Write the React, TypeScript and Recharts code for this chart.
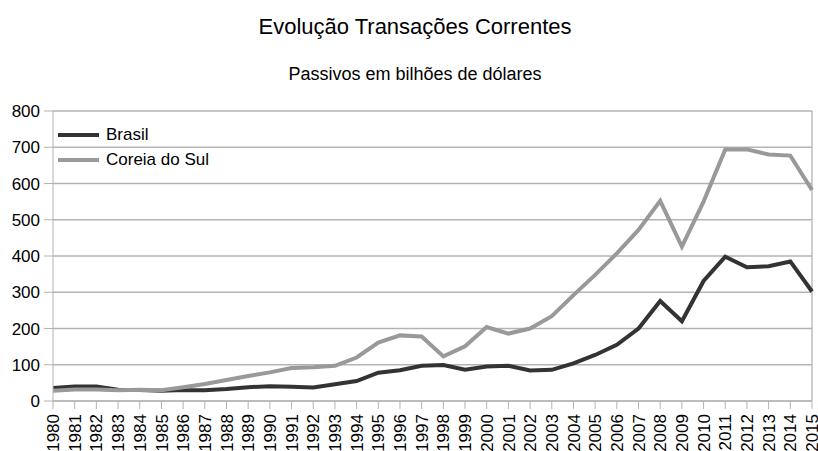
import React from "react";
import {
  LineChart,
  Line,
  XAxis,
  YAxis,
  CartesianGrid,
  Legend,
  ReferenceLine,
} from "recharts";

const years = [
  "1980", "1981", "1982", "1983", "1984", "1985", "1986", "1987", "1988",
  "1989", "1990", "1991", "1992", "1993", "1994", "1995", "1996", "1997",
  "1998", "1999", "2000", "2001", "2002", "2003", "2004", "2005", "2006",
  "2007", "2008", "2009", "2010", "2011", "2012", "2013", "2014", "2015",
];

const brasil = [
  36, 40, 40, 31, 30, 28, 30, 30, 33, 38, 41, 39, 37, 46, 55, 78, 85, 97,
  99, 86, 95, 97, 84, 86, 104, 127, 155, 200, 276, 220, 331, 398, 369, 372,
  385, 302,
];

const coreia = [
  28, 32, 32, 30, 31, 30, 38, 47, 58, 69, 79, 91, 93, 97, 120, 161, 181,
  178, 123, 151, 204, 186, 200, 234, 292, 348, 407, 472, 552, 426, 550, 694,
  694, 680, 677, 582,
];

const yTicks = [0, 100, 200, 300, 400, 500, 600, 700, 800];

const data = years.map((year, i) => ({
  year,
  brasil: brasil[i],
  coreia: coreia[i],
}));

const FONT = '"Liberation Sans", Arial, sans-serif';
const GRID = "#b3b3b3";

function YearTick(props: any) {
  const { x, y, payload } = props;
  return (
    <text
      x={x}
      y={y + 3}
      transform={`rotate(-90, ${x}, ${y + 3})`}
      textAnchor="end"
      dy="0.36em"
      fontSize={17}
      fontFamily={FONT}
      fill="#000"
    >
      {payload.value}
    </text>
  );
}

function LegendBox(props: any) {
  const items = props.payload || [];
  return (
    <div style={{ fontFamily: FONT, fontSize: 17 }}>
      {items.map((it: any) => (
        <div
          key={it.value}
          style={{ display: "flex", alignItems: "center", height: 25 }}
        >
          <span
            style={{
              display: "inline-block",
              width: 41,
              height: 4,
              background: it.color,
              marginRight: 7,
            }}
          />
          <span>{it.value}</span>
        </div>
      ))}
    </div>
  );
}

export default function App() {
  return (
    <div
      style={{
        position: "absolute",
        left: 0,
        top: 0,
        width: 818,
        height: 451,
        background: "#fff",
        fontFamily: FONT,
      }}
    >
      <div
        style={{
          position: "absolute",
          left: 0,
          width: 830,
          top: 16,
          textAlign: "center",
          fontSize: 22,
          lineHeight: "22px",
        }}
      >
        Evolução Transações Correntes
      </div>
      <div
        style={{
          position: "absolute",
          left: 0,
          width: 830,
          top: 65,
          textAlign: "center",
          fontSize: 18,
          lineHeight: "18px",
        }}
      >
        Passivos em bilhões de dólares
      </div>
      <LineChart
        width={818}
        height={451}
        data={data}
        margin={{ top: 111, right: 6, left: 0, bottom: 0 }}
      >
        <CartesianGrid vertical={false} stroke={GRID} strokeWidth={1.3} />
        <XAxis
          dataKey="year"
          interval={0}
          height={50}
          tickSize={8}
          stroke={GRID}
          tick={<YearTick />}
        />
        <YAxis
          domain={[0, 800]}
          ticks={yTicks}
          width={53}
          tickSize={9}
          tickMargin={4}
          stroke={GRID}
          tick={{ fill: "#000", fontSize: 17, fontFamily: FONT }}
        />
        <ReferenceLine x="2015" stroke={GRID} strokeWidth={1.3} />
        <Legend
          layout="horizontal"
          verticalAlign="middle"
          align="center"
          content={<LegendBox />}
          wrapperStyle={{ left: 58, top: 122, width: "auto" }}
        />
        <Line
          type="linear"
          dataKey="brasil"
          name="Brasil"
          stroke="#333333"
          strokeWidth={4}
          dot={false}
          isAnimationActive={false}
        />
        <Line
          type="linear"
          dataKey="coreia"
          name="Coreia do Sul"
          stroke="#999999"
          strokeWidth={4}
          dot={false}
          isAnimationActive={false}
        />
      </LineChart>
    </div>
  );
}
